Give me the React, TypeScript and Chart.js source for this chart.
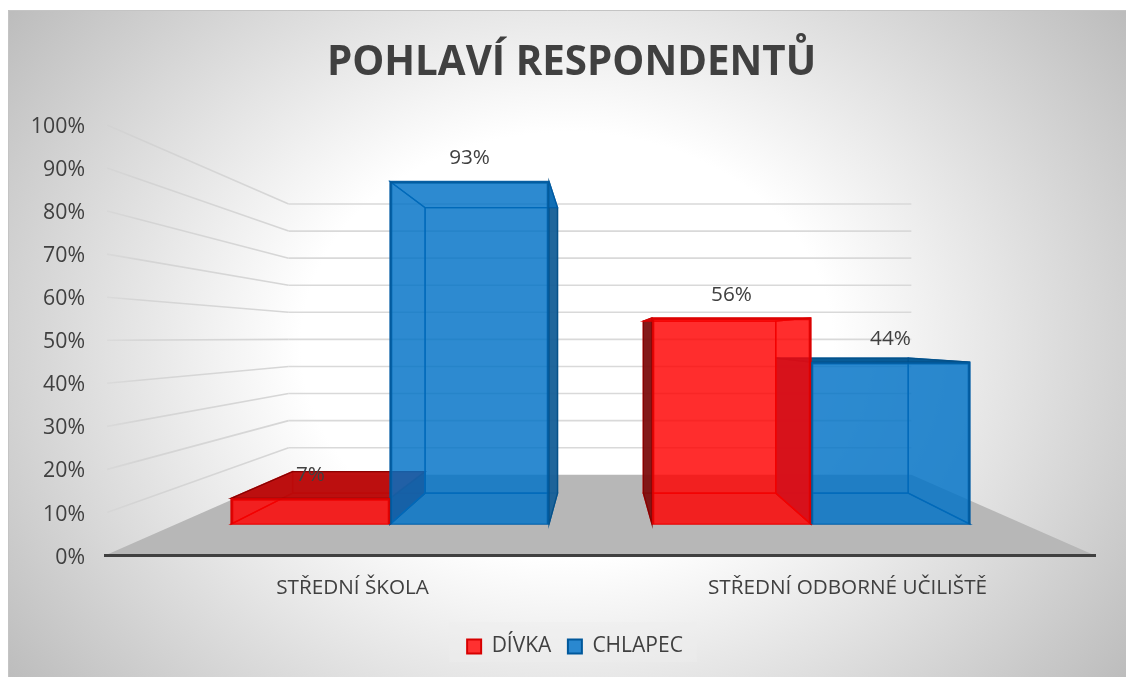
import React, { useEffect, useRef } from "react";
import { Chart, registerables } from "chart.js";

Chart.register(...registerables);

const titleText = "POHLAVÍ RESPONDENTŮ";
const categories = ["STŘEDNÍ ŠKOLA", "STŘEDNÍ ODBORNÉ UČILIŠTĚ"];
const divkaValues = [7, 56];
const chlapecValues = [93, 44];
const yTicksMax = 100;

const FONT = "'Open Sans', sans-serif";
const TEXT = "#404040";

// 3D projection: the vanishing point and depth ratios of the perspective
const VP = { x: 600, y: 338 };
const WALL_DEPTH = 0.629;
const BAR_DEPTH = 0.833;
const project = (x: number, y: number, s: number) => [VP.x + s * (x - VP.x), VP.y + s * (y - VP.y)];

const RED = "255,0,0";
const BLUE = "0,114,198";
const LAYER_ALPHA = 0.58;

type Shade = { base: string; edge: string; outerEdge: string; side: string; top: string };
const redShade: Shade = { base: RED, edge: "rgba(225,0,0,0.9)", outerEdge: "rgba(130,0,0,0.9)", side: "rgba(115,15,15,0.88)", top: "rgba(185,10,10,0.92)" };
const blueShade: Shade = { base: BLUE, edge: "rgba(0,92,165,0.9)", outerEdge: "rgba(5,80,135,0.95)", side: "rgba(25,95,150,0.92)", top: "rgba(0,85,145,0.92)" };

const scenePlugin = {
  id: "scene",
  afterLayout(chart: any) {
    // The title and legend sit centred on the whole 3D box, not on the padded area.
    const tb = chart.titleBlock;
    if (tb) {
      tb.left += 24;
      tb.right += 24;
    }
    const lg = chart.legend;
    if (lg) {
      lg.left += 27.5;
      lg.right += 27.5;
      (lg.legendHitBoxes || []).forEach((h: any) => {
        h.left += 27.5;
      });
    }
  },
  beforeDraw(chart: any) {
    const { ctx, width, height } = chart;
    const { left, right, bottom } = chart.chartArea;
    const yScale = chart.scales.y;
    ctx.save();
    ctx.fillStyle = "#ffffff";
    ctx.fillRect(0, 0, width, height);
    // chart background
    ctx.save();
    ctx.beginPath();
    ctx.rect(8, 10, 1118, 667);
    ctx.clip();
    ctx.translate(567, 345);
    ctx.scale(700, 560);
    const g = ctx.createRadialGradient(0, 0, 0, 0, 0, 1);
    g.addColorStop(0, "#ffffff");
    g.addColorStop(0.38, "#ffffff");
    g.addColorStop(1, "#bcbcbc");
    ctx.fillStyle = g;
    ctx.fillRect(-2, -2, 4, 4);
    ctx.restore();
    ctx.strokeStyle = "#c4c4c4";
    ctx.lineWidth = 1;
    ctx.beginPath();
    ctx.moveTo(8.5, 677);
    ctx.lineTo(8.5, 10.5);
    ctx.lineTo(1126, 10.5);
    ctx.stroke();

    // floor
    const [bl, by] = project(left, bottom, WALL_DEPTH);
    const [br] = project(right, bottom, WALL_DEPTH);
    ctx.fillStyle = "#b7b7b7";
    ctx.beginPath();
    ctx.moveTo(left, bottom);
    ctx.lineTo(right, bottom);
    ctx.lineTo(br, by);
    ctx.lineTo(bl, by);
    ctx.closePath();
    ctx.fill();

    // wall grid lines
    ctx.lineWidth = 1.6;
    yScale.ticks.forEach((t: any) => {
      if (t.value === 0) return;
      const y = yScale.getPixelForValue(t.value);
      const [x1, y1] = project(left, y, WALL_DEPTH);
      const [x2] = project(right, y, WALL_DEPTH);
      const fade = ctx.createLinearGradient(left, 0, x1, 0);
      fade.addColorStop(0, "rgba(205,205,205,0.3)");
      fade.addColorStop(0.2, "rgba(208,208,208,0.8)");
      fade.addColorStop(1, "rgba(214,214,214,1)");
      ctx.strokeStyle = fade;
      ctx.beginPath();
      ctx.moveTo(left + 2, y);
      ctx.lineTo(x1, y1);
      ctx.stroke();
      ctx.strokeStyle = "#d9d9d9";
      ctx.beginPath();
      ctx.moveTo(x1, y1);
      ctx.lineTo(x2, y1);
      ctx.stroke();
    });

    // legend backing
    const boxes = chart.legend?.legendHitBoxes;
    if (boxes?.length) {
      const a = boxes[0];
      const b = boxes[boxes.length - 1];
      ctx.fillStyle = "rgba(238,238,238,0.45)";
      ctx.fillRect(a.left - 18, a.top - 14, b.left + b.width - a.left + 32, 40);
    }
    ctx.restore();
  },
  beforeDatasetsDraw(chart: any) {
    const { ctx } = chart;
    const bars: any[] = [];
    chart.data.datasets.forEach((_: any, i: number) => {
      chart.getDatasetMeta(i).data.forEach((el: any) => bars.push({ el, shade: i === 0 ? redShade : blueShade }));
    });
    bars.sort((a, b) => Math.abs(b.el.x - VP.x) - Math.abs(a.el.x - VP.x));
    const poly = (pts: number[][], fill: string, edge: string) => {
      ctx.beginPath();
      pts.forEach((p, k) => (k ? ctx.lineTo(p[0], p[1]) : ctx.moveTo(p[0], p[1])));
      ctx.closePath();
      ctx.fillStyle = fill;
      ctx.fill();
      ctx.strokeStyle = edge;
      ctx.lineWidth = 1.3;
      ctx.stroke();
    };
    ctx.save();
    bars.forEach(({ el, shade }) => {
      const x0 = el.x - el.width / 2;
      const x1 = el.x + el.width / 2;
      const yt = el.y;
      const yb = el.base;
      const p = (x: number, y: number) => project(x, y, BAR_DEPTH);
      const [bx0, byt] = p(x0, yt);
      const [bx1, byb] = p(x1, yb);
      const inner = `rgba(${shade.base},${LAYER_ALPHA})`;
      poly([[bx0, byt], [bx1, byt], [bx1, byb], [bx0, byb]], inner, shade.edge);
      poly([[x0, yb], [x1, yb], [bx1, byb], [bx0, byb]], inner, shade.edge);
      const leftOuter = bx0 < x0;
      const rightOuter = bx1 > x1;
      const topOuter = byt < yt;
      poly([[x0, yt], [bx0, byt], [bx0, byb], [x0, yb]], leftOuter ? shade.side : inner, leftOuter ? shade.outerEdge : shade.edge);
      poly([[x1, yt], [bx1, byt], [bx1, byb], [x1, yb]], rightOuter ? shade.side : inner, rightOuter ? shade.outerEdge : shade.edge);
      poly([[x0, yt], [x1, yt], [bx1, byt], [bx0, byt]], topOuter ? shade.top : inner, topOuter ? shade.outerEdge : shade.edge);
    });
    ctx.restore();
  },
  afterDatasetsDraw(chart: any) {
    const { ctx } = chart;
    ctx.save();
    ctx.font = `20.7px ${FONT}`;
    ctx.fillStyle = TEXT;
    ctx.textAlign = "center";
    ctx.textBaseline = "middle";
    chart.data.datasets.forEach((ds: any, i: number) => {
      chart.getDatasetMeta(i).data.forEach((el: any, j: number) => {
        ctx.fillText(`${ds.data[j].y}%`, el.x, el.y - 23);
      });
    });
    ctx.restore();
  },
};

export default function App() {
  const ref = useRef<HTMLCanvasElement>(null);
  useEffect(() => {
    const toPoints = (vals: number[]) => vals.map((y, x) => ({ x, y }));
    const chart = new Chart(ref.current as HTMLCanvasElement, {
      type: "bar",
      data: {
        labels: categories,
        datasets: [
          {
            label: "DÍVKA",
            data: toPoints(divkaValues),
            xAxisID: "xBar",
            yAxisID: "yBar",
            backgroundColor: `rgba(${RED},${LAYER_ALPHA})`,
            borderColor: "rgba(215,0,0,0.95)",
            borderWidth: 2,
            barThickness: 159,
          },
          {
            label: "CHLAPEC",
            data: toPoints(chlapecValues),
            xAxisID: "xBar",
            yAxisID: "yBar",
            backgroundColor: `rgba(${BLUE},${LAYER_ALPHA})`,
            borderColor: "rgba(0,88,155,0.95)",
            borderWidth: 2,
            barThickness: 159,
          },
        ] as any,
      },
      plugins: [scenePlugin],
      options: {
        responsive: false,
        animation: false,
        layout: { padding: { left: 0, right: 31, top: 0, bottom: 10 } },
        scales: {
          x: {
            type: "category",
            position: "bottom",
            grid: { display: false },
            border: { color: "#404040", width: 3 },
            ticks: { color: TEXT, font: { family: FONT, size: 20.7 }, padding: 12, maxRotation: 0 },
            afterFit: (s: any) => { s.height = 64; },
          },
          y: {
            type: "linear",
            position: "left",
            min: 0,
            max: yTicksMax,
            grid: { display: false },
            border: { display: false },
            ticks: { stepSize: 10, color: TEXT, font: { family: FONT, size: 21.3 }, padding: 12, labelOffset: 2, callback: (v: any) => `${v}%` },
            afterFit: (s: any) => { s.width = 105; },
          },
          xBar: { type: "linear", display: false, offset: false, min: -0.677, max: 1.6746, position: "bottom" },
          yBar: { type: "linear", display: false, min: -8.5, max: 108.35, position: "left" },
        } as any,
        plugins: {
          title: {
            display: true,
            text: titleText,
            color: TEXT,
            font: { family: FONT, size: 40.3, weight: "bold" },
            padding: { top: 39, bottom: 37.6 },
          },
          tooltip: { enabled: false },
          legend: {
            display: true,
            position: "bottom",
            labels: {
              color: TEXT,
              font: { family: FONT, size: 21 },
              boxWidth: 14,
              boxHeight: 14,
              padding: 16.5,
              generateLabels: () => [
                { text: "DÍVKA", fillStyle: "#ff3030", strokeStyle: "#d70000", lineWidth: 2, datasetIndex: 0, fontColor: TEXT },
                { text: "CHLAPEC", fillStyle: "#2a88d0", strokeStyle: "#00589b", lineWidth: 2, datasetIndex: 1, fontColor: TEXT },
              ],
            },
          },
        },
      } as any,
    });
    return () => chart.destroy();
  }, []);
  return (
    <div style={{ position: "absolute", left: 0, top: 0 }}>
      <canvas ref={ref} width={1126} height={677} style={{ display: "block" }} />
    </div>
  );
}
